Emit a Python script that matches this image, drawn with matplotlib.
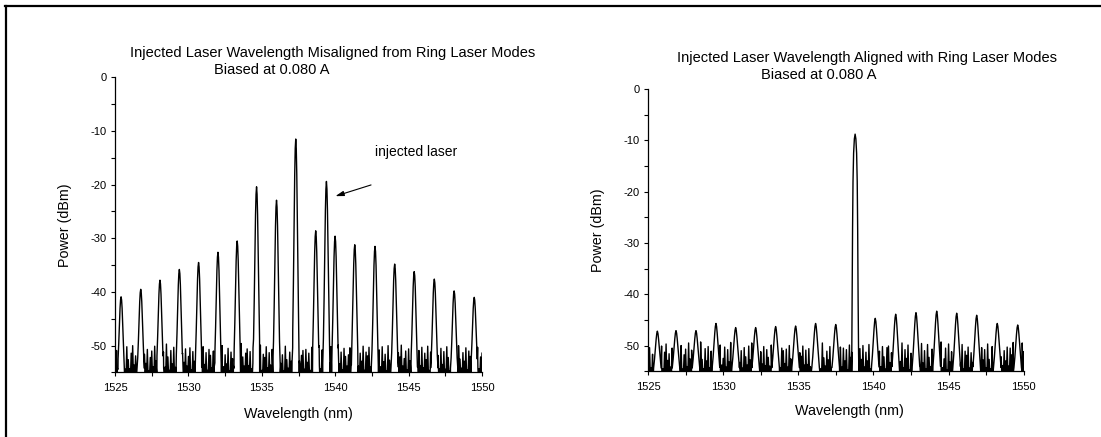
import matplotlib
matplotlib.use("Agg")
import matplotlib.pyplot as plt
import numpy as np
from matplotlib.lines import Line2D
from matplotlib.ticker import MultipleLocator

plt.rcParams['font.family'] = ['Liberation Sans', 'DejaVu Sans']
plt.rcParams['axes.unicode_minus'] = False

# ---- data ----
wl_start, wl_step = 1525.0, 0.1   # noise spike tops read every 0.1 nm
floor_db = -55.6                  # trace drops to the OSA floor between spikes

# left panel: misaligned injection
left_peak_nm = [1525.41, 1526.75, 1528.06, 1529.38, 1530.69, 1532.01, 1533.32,
                1534.64, 1536.00, 1537.31, 1538.67, 1539.40, 1539.99, 1541.33,
                1542.71, 1544.05, 1545.38, 1546.75, 1548.10, 1549.47]
left_peak_db = [-40.9, -39.5, -37.8, -35.8, -34.5, -32.6, -30.5,
                -20.4, -22.9, -11.5, -28.6, -19.4, -29.6, -31.2,
                -31.5, -34.8, -36.2, -37.6, -39.8, -41.0]

left_noise_db = [
    -52.3, -50.9, -54.4, -51.8, -50.6, -53.0, -51.3, -54.6, -50.2, -52.6,
    -54.3, -51.4, -50.0, -53.6, -51.9, -54.5, -50.8, -52.7, -50.4, -54.1,
    -51.6, -53.3, -50.7, -54.7, -52.2, -51.0, -53.9, -50.1, -52.8, -51.5,
    -54.4, -50.5, -52.4, -51.2, -54.0, -49.7, -52.1, -54.6, -50.9, -53.4,
    -50.3, -54.2, -51.7, -52.5, -49.9, -54.7, -51.4, -53.1, -50.6, -53.8,
    -52.0, -50.4, -54.5, -51.1, -52.9, -49.8, -54.3, -52.3, -50.8, -54.0,
    -50.2, -53.5, -51.3, -54.6, -50.7, -51.8, -54.1, -51.0, -53.2, -50.1,
    -54.4, -51.5, -52.6, -50.0, -53.9, -51.7, -53.4, -50.5, -54.7, -51.2,
    -52.4, -54.2, -50.3, -52.8, -50.9, -54.5, -49.6, -52.1, -53.8, -51.4,
    -50.6, -53.7, -51.1, -54.3, -50.4, -52.5, -54.0, -50.8, -53.0, -49.9,
    -54.6, -51.6, -52.2, -50.2, -54.1, -51.3, -53.6, -50.7, -54.4, -51.9,
    -51.0, -53.8, -50.5, -53.3, -51.7, -54.7, -50.1, -52.6, -54.2, -51.2,
    -52.9, -50.4, -54.5, -51.5, -52.3, -49.8, -54.0, -51.8, -50.9, -54.4,
    -50.7, -53.1, -51.4, -54.6, -50.3, -52.4, -53.9, -51.1, -53.5, -50.0,
    -54.3, -50.8, -52.7, -50.6, -54.1, -51.6, -52.8, -50.2, -54.7, -51.3,
    -52.1, -54.0, -49.9, -53.4, -51.2, -54.5, -50.5, -52.0, -53.8, -51.7,
    -50.4, -53.6, -51.0, -54.2, -50.7, -52.5, -54.4, -51.4, -52.9, -50.1,
    -54.6, -51.2, -51.9, -50.3, -54.0, -51.5, -53.3, -50.6, -54.3, -52.2,
    -50.8, -53.9, -50.2, -53.0, -51.6, -54.7, -50.0, -52.7, -54.1, -51.1,
    -53.2, -50.5, -54.4, -51.3, -52.1, -49.9, -53.8, -52.4, -51.0, -54.5,
    -50.6, -52.8, -51.7, -54.2, -50.4, -52.3, -54.0, -50.9, -53.7, -50.3,
    -54.1, -51.4, -52.6, -50.1, -54.6, -51.2, -53.1, -50.7, -53.9, -51.6,
    -51.8, -54.3, -50.5, -53.5, -51.1, -54.4, -50.2, -52.2, -54.7, -50.8,
    -50.7, -53.4, -51.5, -54.0, -50.0, -52.5, -54.2, -51.3, -52.9, -50.4,
    -54.5, -51.0, -52.0, -50.6, -53.8, -51.7, -53.2, -50.3, -54.3, -52.1,
    -51.4]

# right panel: aligned injection
right_peak_nm = [1525.62, 1526.86, 1528.19, 1529.52, 1530.83, 1532.16, 1533.49,
                 1534.82, 1536.15, 1537.49, 1538.78, 1540.12, 1541.48, 1542.83,
                 1544.21, 1545.54, 1546.87, 1548.24, 1549.60]
right_peak_db = [-47.2, -47.1, -47.1, -45.7, -46.5, -46.5, -46.3,
                 -46.2, -45.7, -45.9, -8.8, -44.7, -43.9, -43.6,
                 -43.3, -43.7, -44.1, -45.7, -46.0]

right_noise_db = [
    -53.6, -50.4, -54.3, -51.7, -52.4, -49.6, -54.0, -51.0, -53.1, -50.1,
    -54.5, -51.3, -49.7, -52.9, -51.6, -54.2, -50.5, -52.1, -49.4, -53.8,
    -51.2, -53.7, -50.0, -54.6, -51.8, -50.7, -54.1, -49.5, -52.6, -50.9,
    -54.4, -49.8, -52.3, -51.4, -53.9, -49.3, -52.7, -54.5, -50.6, -53.0,
    -50.2, -54.3, -51.1, -52.0, -49.6, -54.6, -51.5, -53.4, -49.9, -53.8,
    -52.5, -50.3, -54.2, -50.8, -53.2, -49.4, -54.7, -51.9, -50.7, -54.0,
    -49.7, -53.3, -51.0, -54.4, -50.4, -52.2, -53.8, -50.1, -52.8, -49.5,
    -54.1, -51.6, -52.4, -49.8, -54.5, -51.2, -53.6, -50.2, -53.9, -50.8,
    -52.3, -54.0, -49.9, -53.1, -51.3, -54.6, -49.6, -51.8, -54.3, -50.5,
    -51.0, -53.5, -50.7, -54.2, -50.0, -52.6, -54.4, -50.3, -52.9, -49.7,
    -54.7, -51.4, -52.1, -50.1, -53.8, -50.9, -53.7, -50.6, -54.1, -51.5,
    -50.4, -53.9, -49.8, -53.2, -51.7, -54.5, -49.5, -52.4, -54.0, -51.1,
    -52.8, -50.2, -54.3, -51.2, -51.9, -49.4, -54.6, -52.5, -50.3, -54.2,
    -50.5, -53.0, -50.8, -54.7, -49.9, -52.3, -53.8, -50.7, -53.4, -49.6,
    -54.4, -50.6, -52.7, -50.0, -54.2, -51.3, -53.0, -49.8, -54.5, -51.0,
    -52.0, -53.8, -49.7, -53.6, -51.1, -54.1, -50.2, -52.2, -54.6, -50.4,
    -50.1, -53.3, -51.4, -54.0, -50.3, -51.8, -54.4, -50.9, -53.1, -49.5,
    -54.3, -50.8, -52.5, -49.9, -54.7, -51.5, -52.8, -50.4, -53.9, -52.0,
    -50.6, -54.2, -49.6, -53.4, -51.0, -54.5, -49.8, -52.3, -54.1, -50.7,
    -52.9, -50.0, -53.8, -51.6, -52.1, -49.3, -54.3, -52.6, -50.5, -54.7,
    -49.7, -53.2, -51.2, -53.9, -50.1, -52.4, -54.0, -50.6, -53.5, -49.8,
    -54.6, -51.1, -51.9, -50.3, -54.4, -51.4, -53.3, -50.0, -53.8, -51.7,
    -51.3, -54.1, -50.4, -52.8, -50.8, -54.3, -49.7, -52.7, -54.5, -50.2,
    -49.9, -53.6, -51.5, -54.2, -49.6, -52.2, -53.9, -51.0, -53.0, -50.3,
    -54.0, -50.5, -51.8, -49.4, -54.4, -50.9, -53.4, -50.1, -53.8, -49.5,
    -51.2]

# peak line shapes (offset in nm, fraction of depth down to -55 dBm)
narrow_dx = [0.0, 0.035, 0.07, 0.115, 0.16, 0.205, 0.25, 0.30]
narrow_frac = [0.0, 0.04, 0.15, 0.38, 0.62, 0.82, 0.95, 1.08]
wide_dx = [0.0, 0.04, 0.08, 0.13, 0.19, 0.25, 0.30]
wide_frac = [0.0, 0.06, 0.20, 0.42, 0.70, 0.92, 1.05]
main_dx = [0.0, 0.05, 0.10, 0.14, 0.17, 0.20, 0.23, 0.26]
main_frac = [0.0, 0.02, 0.08, 0.20, 0.40, 0.70, 0.92, 1.05]


def build_trace(noise, centers, heights, shapes):
    tops_x = wl_start + wl_step * np.arange(len(noise))
    # spike tops alternate with floor touches half a step later
    xs = np.concatenate([tops_x, tops_x[:-1] + wl_step / 2])
    ys = np.concatenate([np.array(noise), np.full(len(noise) - 1, floor_db)])
    keep = np.ones(len(xs), bool)
    px, py = [], []
    for c, h, (dx, fr) in zip(centers, heights, shapes):
        dx = np.array(dx)
        fr = np.array(fr)
        # noise is hidden only where the mode stands clearly above it
        cut = dx[np.argmax(fr >= 0.75)]
        keep &= np.abs(xs - c) > cut
        full_dx = np.concatenate([-dx[::-1], dx[1:]])
        full_fr = np.concatenate([fr[::-1], fr[1:]])
        px.extend(c + full_dx)
        py.extend(h - full_fr * (h + 55))
    x = np.concatenate([xs[keep], px])
    y = np.concatenate([ys[keep], py])
    order = np.argsort(x)
    return x[order], y[order]


def style_axes(ax):
    ax.set_xlim(1525, 1550)
    ax.set_ylim(-55, 0)
    for s in ("top", "right"):
        ax.spines[s].set_visible(False)
    for s in ("left", "bottom"):
        ax.spines[s].set_linewidth(0.9)
    ax.xaxis.set_major_locator(MultipleLocator(5))
    ax.xaxis.set_minor_locator(MultipleLocator(2.5))
    ax.yaxis.set_major_locator(MultipleLocator(10))
    ax.yaxis.set_minor_locator(MultipleLocator(5))
    ax.tick_params(which="both", direction="out", length=3, width=0.8)
    ax.tick_params(axis="x", which="major", labelsize=8, pad=4.5)
    ax.tick_params(axis="y", which="major", labelsize=8, pad=3)


fig = plt.figure(figsize=(11.01, 4.37), dpi=100)

# page frame (top and left edge of the figure box)
fig.add_artist(Line2D([5 / 1101, 1], [1 - 6 / 437, 1 - 6 / 437], lw=1.6, color="black"))
fig.add_artist(Line2D([6 / 1101, 6 / 1101], [0, 1 - 6 / 437], lw=1.6, color="black"))

ax1 = fig.add_axes([0.1045, 0.1476, 0.3333, 0.6755])
ax2 = fig.add_axes([0.5886, 0.1506, 0.3412, 0.6458])

x1, y1 = build_trace(left_noise_db, left_peak_nm, left_peak_db,
                     [(narrow_dx, narrow_frac)] * len(left_peak_nm))
ax1.plot(x1, y1, color="black", lw=1.0)

shapes2 = [(main_dx, main_frac) if h > -20 else (wide_dx, wide_frac) for h in right_peak_db]
x2, y2 = build_trace(right_noise_db, right_peak_nm, right_peak_db, shapes2)
ax2.plot(x2, y2, color="black", lw=1.0)

for ax, lx in ((ax1, -0.136), (ax2, -0.134)):
    style_axes(ax)
    ax.set_xlabel("Wavelength (nm)", fontsize=10.3, va="center")
    ax.set_ylabel("Power (dBm)", fontsize=10.3, va="center")
    ax.yaxis.set_label_coords(lx, 0.5)
ax1.xaxis.set_label_coords(0.5, -0.14)
ax2.xaxis.set_label_coords(0.535, -0.141)

ax1.annotate("", xy=(1539.83, -22.3), xytext=(1542.62, -19.9),
             arrowprops=dict(arrowstyle="-|>,head_length=0.5,head_width=0.15",
                             color="black", lw=0.8))
ax1.text(1545.5, -13.9, "injected laser", fontsize=10, ha="center", va="center")

fig.text(0.3025, 0.878, "Injected Laser Wavelength Misaligned from Ring Laser Modes",
         fontsize=10.5, ha="center", va="center")
fig.text(0.2466, 0.8398, "Biased at 0.080 A", fontsize=10.5, ha="center", va="center")
fig.text(0.7872, 0.8666, "Injected Laser Wavelength Aligned with Ring Laser Modes",
         fontsize=10.5, ha="center", va="center")
fig.text(0.7432, 0.8284, "Biased at 0.080 A", fontsize=10.5, ha="center", va="center")

fig.savefig("out.png", dpi=100)
